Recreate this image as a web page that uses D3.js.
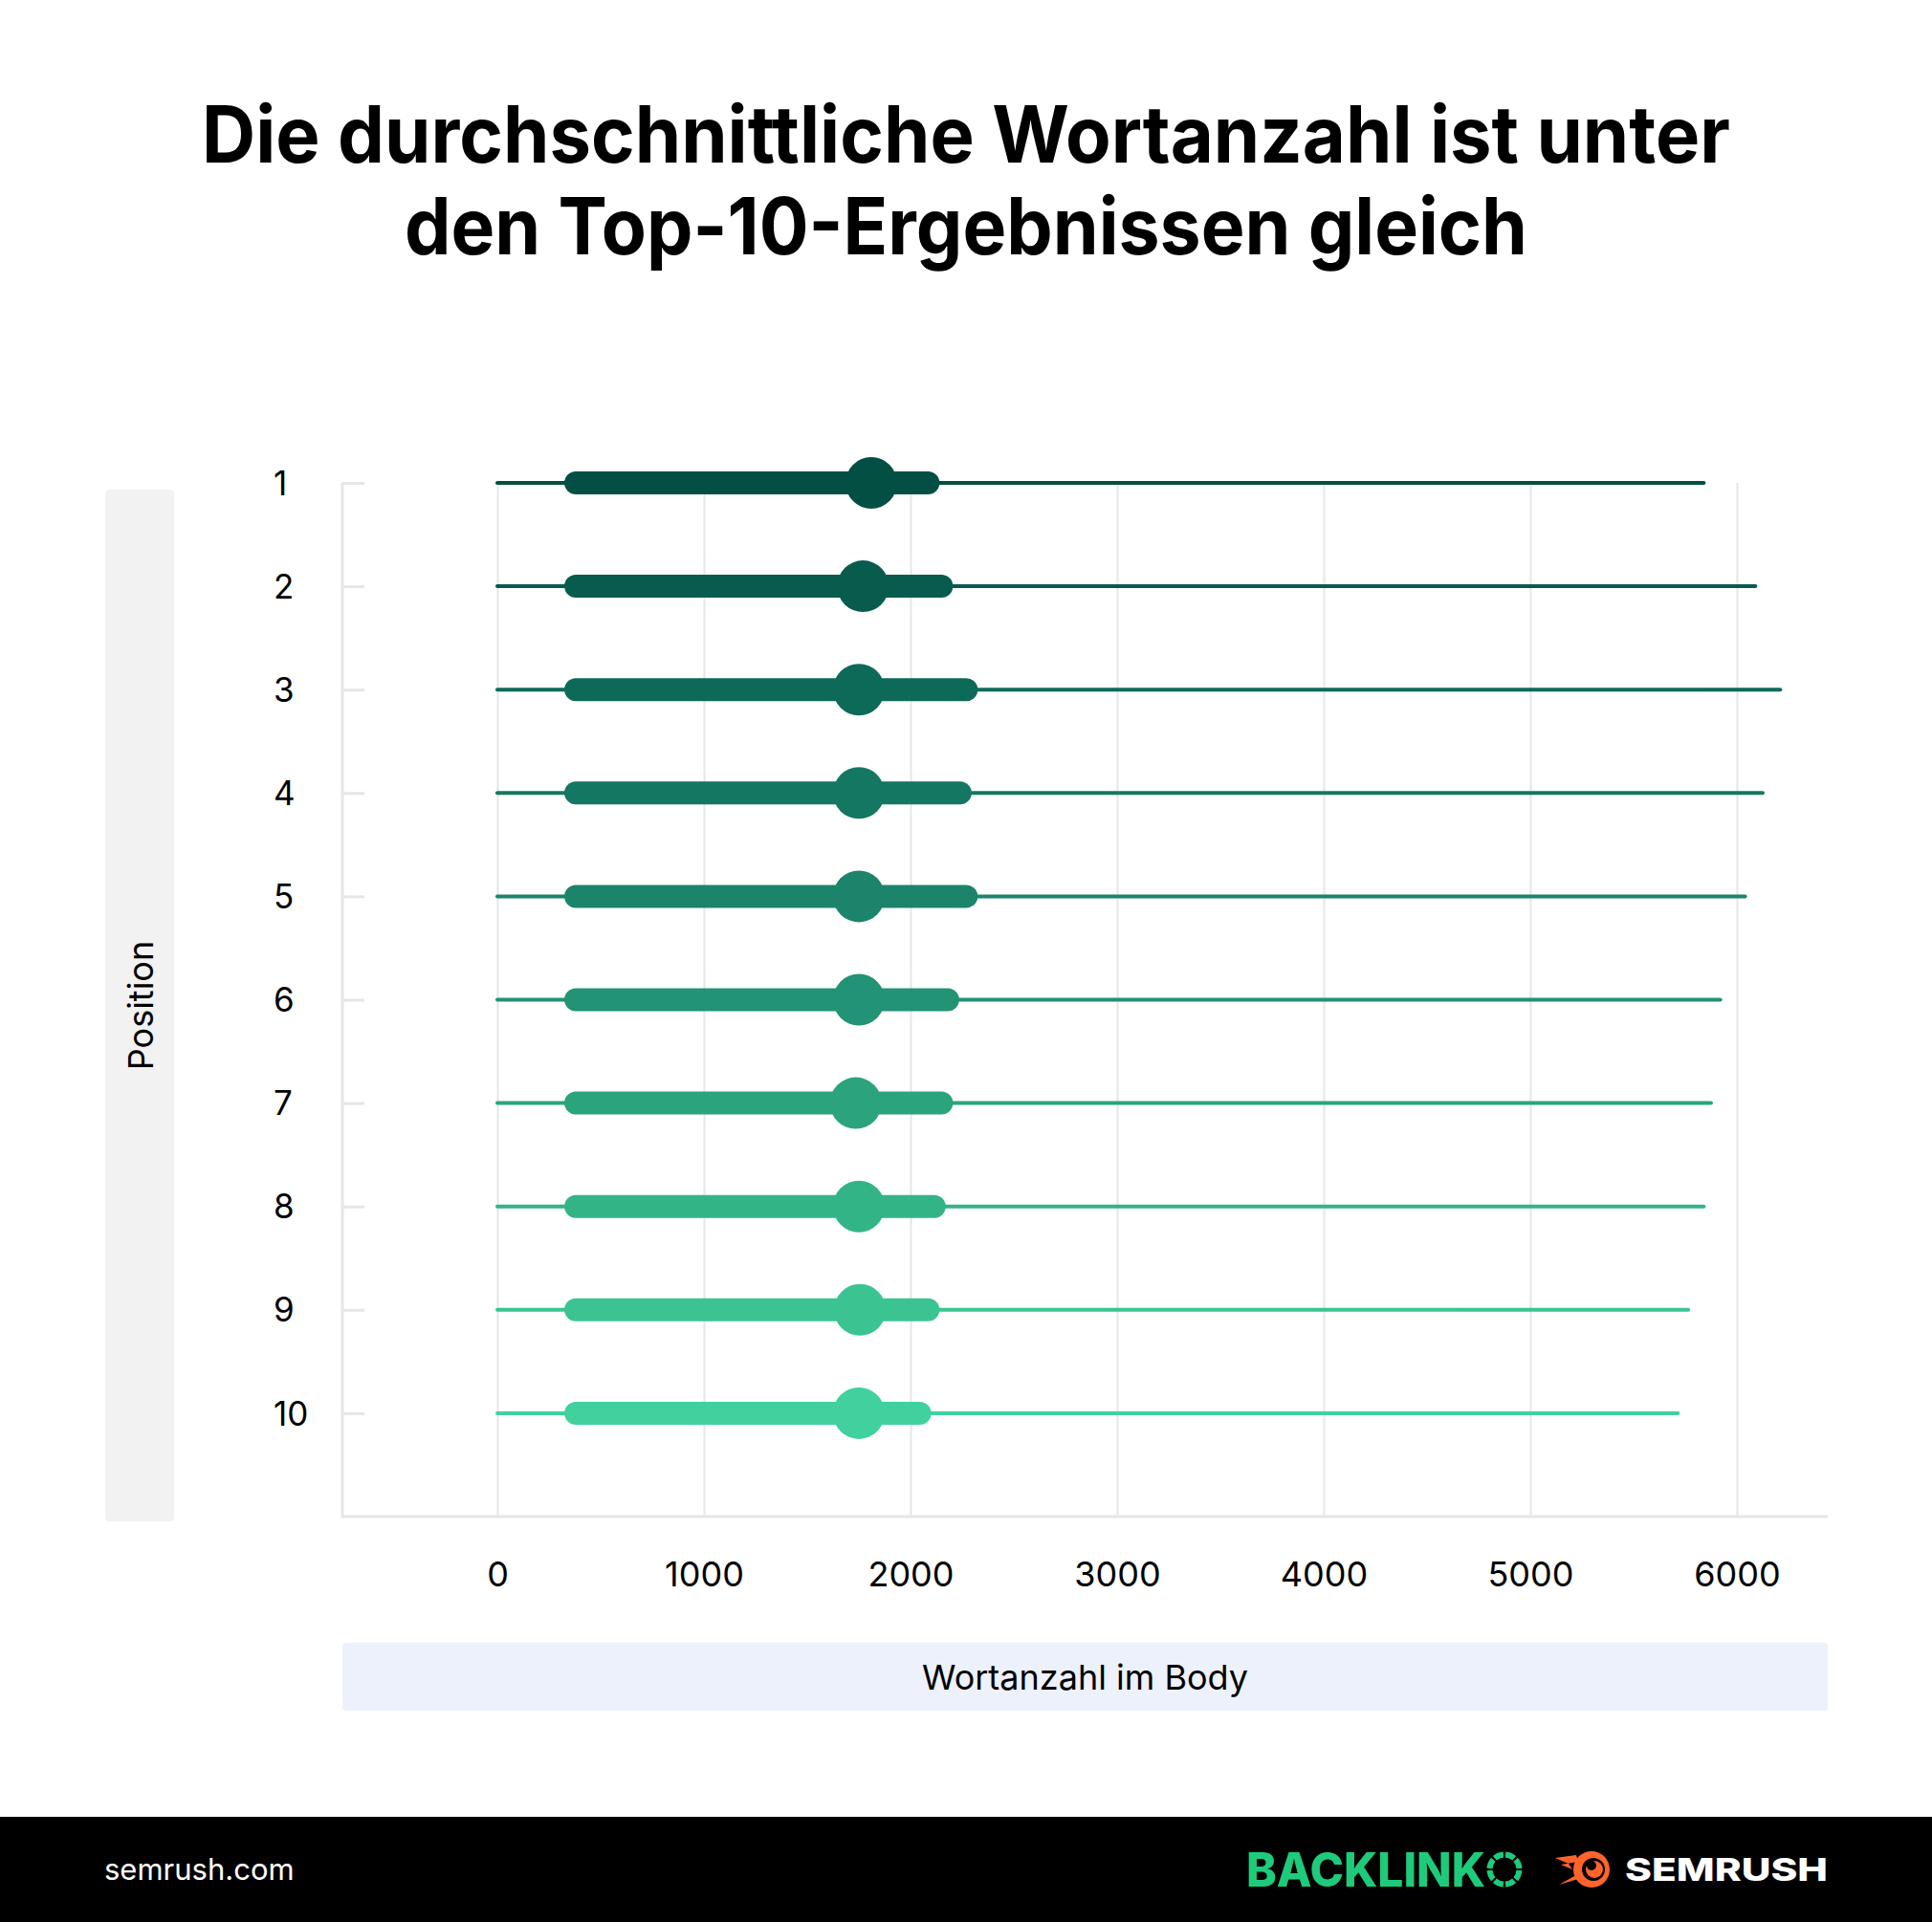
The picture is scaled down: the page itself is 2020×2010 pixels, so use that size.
<!DOCTYPE html>
<html>
<head>
<meta charset="utf-8">
<script src="https://cdn.jsdelivr.net/npm/d3@7"></script>
<style>
  html, body { margin: 0; padding: 0; background: #ffffff; }
  svg { display: block; }
  text { font-family: Inter, "Noto Sans", sans-serif; }
</style>
</head>
<body>
<script>
// ---------- data ----------
const titleLines = ["Die durchschnittliche Wortanzahl ist unter", "den Top-10-Ergebnissen gleich"];
const positions = [1, 2, 3, 4, 5, 6, 7, 8, 9, 10];
const minValues = [0, 0, 0, 0, 0, 0, 0, 0, 0, 0];
const q1Values = [380, 380, 380, 380, 380, 380, 380, 380, 380, 380];
const medianValues = [1810, 1770, 1750, 1750, 1750, 1750, 1735, 1750, 1755, 1750];
const q3Values = [2085, 2150, 2270, 2240, 2270, 2180, 2150, 2115, 2085, 2045];
const maxValues = [5840, 6090, 6210, 6125, 6040, 5920, 5875, 5840, 5765, 5715];
const rowColors = ["#034f44", "#075c4e", "#0e6a58", "#147761", "#1b846a", "#229374", "#2ba47e", "#33b487", "#3bc492", "#40d19e"];
const xTicks = [0, 1000, 2000, 3000, 4000, 5000, 6000];
const xAxisTitle = "Wortanzahl im Body";
const yAxisTitle = "Position";
const footerSource = "semrush.com";

const rows = positions.map((p, i) => ({
  pos: p, min: minValues[i], q1: q1Values[i], median: medianValues[i],
  q3: q3Values[i], max: maxValues[i], color: rowColors[i]
}));

// ---------- layout ----------
const W = 2020, H = 2010;
const plot = { left: 358, right: 1911, top: 505, bottom: 1586 };

const svg = d3.select("body").append("svg").attr("width", W).attr("height", H);
svg.append("rect").attr("width", W).attr("height", H).attr("fill", "#ffffff");

// Title
const titleTargets = [1598, 1174];
const titleBase = [170, 266];
titleLines.forEach((t, i) => {
  const el = svg.append("text")
    .attr("x", W / 2).attr("y", titleBase[i])
    .attr("text-anchor", "middle")
    .attr("font-size", 82).attr("font-weight", 700)
    .attr("fill", "#000000")
    .text(t);
  const w = el.node().getComputedTextLength();
  if (Math.abs(w - titleTargets[i]) > 4) {
    el.attr("textLength", titleTargets[i]).attr("lengthAdjust", "spacingAndGlyphs");
  }
});

// scales
const x = d3.scaleLinear().domain([-750, 6440]).range([plot.left, plot.right]);
const y = d3.scaleLinear().domain([1, 11]).range([plot.top, plot.bottom]);

// y-axis label box
svg.append("rect").attr("x", 110).attr("y", 512).attr("width", 72).attr("height", 1079)
  .attr("rx", 4).attr("fill", "#f2f2f2");
svg.append("text")
  .attr("transform", `translate(160, ${(512 + 1591) / 2}) rotate(-90)`)
  .attr("text-anchor", "middle")
  .attr("font-size", 36).attr("fill", "#000")
  .text(yAxisTitle);

// x-axis label box
svg.append("rect").attr("x", plot.left).attr("y", 1718).attr("width", plot.right - plot.left).attr("height", 71)
  .attr("rx", 4).attr("fill", "#edf1fb");
svg.append("text")
  .attr("x", (plot.left + plot.right) / 2).attr("y", 1767)
  .attr("text-anchor", "middle")
  .attr("font-size", 36).attr("fill", "#000")
  .text(xAxisTitle);

// gridlines
const grid = svg.append("g").attr("transform", `translate(0, ${plot.bottom})`)
  .call(d3.axisBottom(x).tickValues(xTicks).tickSize(-(plot.bottom - plot.top)).tickFormat(""));
grid.select(".domain").remove();
grid.selectAll(".tick line").attr("stroke", "#e6e6e6").attr("stroke-width", 2);

// x tick labels
const xAxis = svg.append("g").attr("transform", `translate(0, ${plot.bottom})`)
  .call(d3.axisBottom(x).tickValues(xTicks).tickSize(0).tickPadding(47).tickFormat(d3.format("d")));
xAxis.select(".domain").remove();
xAxis.selectAll("text").attr("font-size", 36).attr("fill", "#000")
  .attr("font-family", "Inter, 'Noto Sans', sans-serif");

// frame lines (left + bottom)
svg.append("line").attr("x1", plot.left).attr("x2", plot.left).attr("y1", plot.top).attr("y2", plot.bottom + 1.5)
  .attr("stroke", "#e6e6e6").attr("stroke-width", 3);
svg.append("line").attr("x1", plot.left).attr("x2", plot.right).attr("y1", plot.bottom).attr("y2", plot.bottom)
  .attr("stroke", "#e6e6e6").attr("stroke-width", 3);

// y ticks (inside) + labels
const yAxis = svg.append("g").attr("transform", `translate(${plot.left}, 0)`)
  .call(d3.axisRight(y).tickValues(positions).tickSize(23).tickFormat(""));
yAxis.select(".domain").remove();
yAxis.selectAll(".tick line").attr("stroke", "#e6e6e6").attr("stroke-width", 3);

svg.append("g").selectAll("text").data(positions).join("text")
  .attr("x", 286).attr("y", d => y(d)).attr("dy", "0.36em")
  .attr("font-size", 35).attr("fill", "#000")
  .text(d => d);

// marks
const g = svg.append("g");
g.selectAll("line.range").data(rows).join("line").attr("class", "range")
  .attr("x1", d => x(d.min)).attr("x2", d => x(d.max))
  .attr("y1", d => y(d.pos)).attr("y2", d => y(d.pos))
  .attr("stroke", d => d.color).attr("stroke-width", 4).attr("stroke-linecap", "round");
g.selectAll("line.iqr").data(rows).join("line").attr("class", "iqr")
  .attr("x1", d => x(d.q1)).attr("x2", d => x(d.q3))
  .attr("y1", d => y(d.pos)).attr("y2", d => y(d.pos))
  .attr("stroke", d => d.color).attr("stroke-width", 24).attr("stroke-linecap", "round");
g.selectAll("circle.med").data(rows).join("circle").attr("class", "med")
  .attr("cx", d => x(d.median)).attr("cy", d => y(d.pos)).attr("r", 27)
  .attr("fill", d => d.color);

// footer
svg.append("rect").attr("x", 0).attr("y", 1900).attr("width", W).attr("height", 110).attr("fill", "#000");
svg.append("text").attr("x", 109).attr("y", 1966).attr("font-size", 31).attr("fill", "#fff").text(footerSource);

// Backlinko logo
svg.append("text").attr("x", 1303).attr("y", 1973).attr("font-size", 50).attr("font-weight", 800)
  .attr("fill", "#1ecb7b").attr("textLength", 250).attr("lengthAdjust", "spacingAndGlyphs").text("BACKLINK");
const ring = svg.append("g").attr("transform", "translate(1573,1955)");
d3.range(8).forEach(k => {
  const a0 = k * Math.PI / 4 + 0.07, a1 = (k + 1) * Math.PI / 4 - 0.07;
  ring.append("path").attr("d", d3.arc().innerRadius(12.5).outerRadius(18.5).startAngle(a0).endAngle(a1)())
    .attr("fill", "#1ecb7b");
});

// Semrush logo
const sl = svg.append("g").attr("transform", "translate(1626,1937)");
sl.append("path").attr("d", "M0,6 L22,3 L24,10 L6,13 L18,18 L22,24 L4,34 L24,28 L30,36 L14,12 Z").attr("fill", "#ff642d");
sl.append("circle").attr("cx", 38).attr("cy", 18).attr("r", 19).attr("fill", "#ff642d");
sl.append("circle").attr("cx", 40).attr("cy", 18).attr("r", 12).attr("fill", "#000");
sl.append("circle").attr("cx", 41).attr("cy", 18).attr("r", 9).attr("fill", "#ff642d");
sl.append("circle").attr("cx", 38).attr("cy", 14).attr("r", 5).attr("fill", "#000");
svg.append("text").attr("x", 1699).attr("y", 1967).attr("font-size", 33).attr("font-weight", 800)
  .attr("fill", "#fff").attr("textLength", 212).attr("lengthAdjust", "spacingAndGlyphs").text("SEMRUSH");
</script>
</body>
</html>
